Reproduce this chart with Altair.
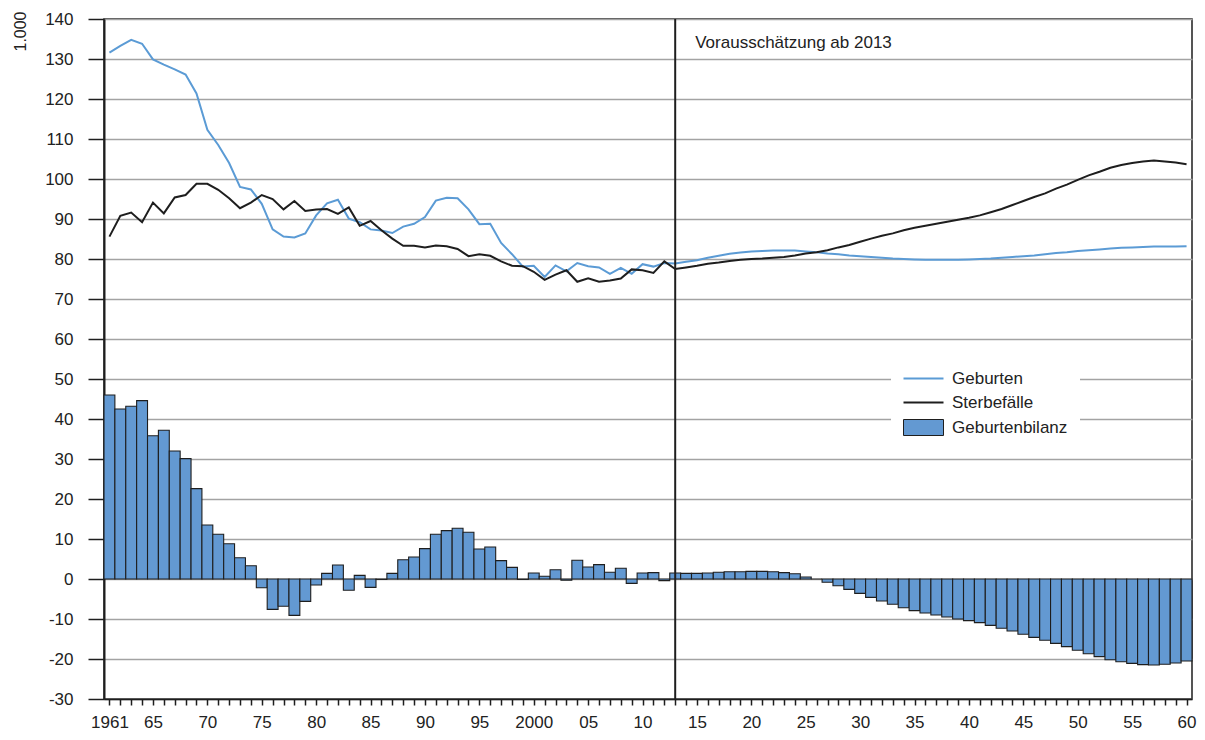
import altair as alt
import pandas as pd

# ---------------- data (in 1.000) ----------------
years = list(range(1961, 2061))

geburten = [
    131.6, 133.3, 134.8, 133.8, 129.9, 128.6, 127.4, 126.1, 121.4, 112.3,   # 1961-1970
    108.5, 104.0, 98.0, 97.4, 93.8, 87.4, 85.6, 85.4, 86.4, 90.9,           # 1971-1980
    93.9, 94.8, 90.1, 89.2, 87.4, 87.1, 86.5, 88.1, 88.8, 90.5,             # 1981-1990
    94.6, 95.3, 95.2, 92.4, 88.7, 88.8, 84.0, 81.2, 78.1, 78.3,             # 1991-2000
    75.5, 78.4, 76.9, 79.0, 78.2, 77.9, 76.3, 77.8, 76.3, 78.7,             # 2001-2010
    78.1, 79.0, 78.9, 79.3, 79.7, 80.3, 80.8, 81.3, 81.6, 81.9,             # 2011-2020
    82.0, 82.1, 82.1, 82.1, 81.9, 81.7, 81.4, 81.2, 80.9, 80.7,             # 2021-2030
    80.5, 80.3, 80.1, 80.0, 79.9, 79.8, 79.8, 79.8, 79.8, 79.9,             # 2031-2040
    80.0, 80.1, 80.3, 80.5, 80.7, 80.9, 81.2, 81.5, 81.7, 82.0,             # 2041-2050
    82.2, 82.4, 82.6, 82.8, 82.9, 83.0, 83.1, 83.1, 83.1, 83.2,             # 2051-2060
]

sterbefaelle = [
    85.6, 90.8, 91.6, 89.2, 94.1, 91.4, 95.4, 96.0, 98.8, 98.8,             # 1961-1970
    97.3, 95.2, 92.7, 94.1, 96.0, 95.0, 92.4, 94.5, 92.0, 92.4,             # 1971-1980
    92.5, 91.3, 92.9, 88.3, 89.5, 87.2, 85.1, 83.3, 83.3, 82.9,             # 1981-1990
    83.4, 83.2, 82.5, 80.7, 81.2, 80.8, 79.4, 78.3, 78.2, 76.8,             # 1991-2000
    74.8, 76.1, 77.2, 74.3, 75.2, 74.3, 74.6, 75.1, 77.4, 77.2,             # 2001-2010
    76.5, 79.4, 77.5, 77.9, 78.3, 78.8, 79.1, 79.5, 79.8, 80.0,             # 2011-2020
    80.1, 80.3, 80.5, 80.9, 81.4, 81.7, 82.2, 82.9, 83.5, 84.3,             # 2021-2030
    85.1, 85.8, 86.4, 87.2, 87.8, 88.3, 88.8, 89.3, 89.8, 90.3,             # 2031-2040
    90.9, 91.7, 92.5, 93.5, 94.5, 95.5, 96.4, 97.6, 98.6, 99.8,             # 2041-2050
    100.9, 101.8, 102.8, 103.5, 104.0, 104.4, 104.6, 104.4, 104.1, 103.7,   # 2051-2060
]

geburtenbilanz = [
    46.0, 42.5, 43.2, 44.6, 35.8, 37.2, 32.0, 30.1, 22.6, 13.5,             # 1961-1970
    11.2, 8.8, 5.3, 3.3, -2.2, -7.6, -6.8, -9.1, -5.6, -1.5,                # 1971-1980
    1.4, 3.5, -2.8, 0.9, -2.1, -0.1, 1.4, 4.8, 5.5, 7.6,                    # 1981-1990
    11.2, 12.1, 12.7, 11.7, 7.5, 8.0, 4.6, 2.9, -0.1, 1.5,                  # 1991-2000
    0.7, 2.3, -0.3, 4.7, 3.0, 3.6, 1.7, 2.7, -1.1, 1.5,                     # 2001-2010
    1.6, -0.4, 1.5, 1.4, 1.4, 1.5, 1.7, 1.8, 1.8, 1.9,                      # 2011-2020
    1.9, 1.8, 1.6, 1.3, 0.5, 0.0, -0.8, -1.7, -2.6, -3.6,                   # 2021-2030
    -4.6, -5.5, -6.3, -7.2, -7.9, -8.5, -9.0, -9.5, -10.0, -10.4,           # 2031-2040
    -10.9, -11.6, -12.3, -13.0, -13.8, -14.6, -15.3, -16.1, -16.9, -17.8,   # 2041-2050
    -18.7, -19.4, -20.2, -20.7, -21.1, -21.4, -21.5, -21.3, -21.0, -20.5,   # 2051-2060
]

series_names = ["Geburten", "Sterbefälle", "Geburtenbilanz"]
y_ticks = list(range(-30, 141, 10))
prognose_start = [2013]
annotation = ["Vorausschätzung ab 2013"]
annotation_y = [134.0]

df = pd.DataFrame({
    "Jahr": years,
    "Geburten": geburten,
    "Sterbefälle": sterbefaelle,
    "Geburtenbilanz": geburtenbilanz,
})

BLUE_FILL = "#6399d2"
BLUE_LINE = "#5b9bd5"
BLACK = "#1e1e1e"
TEXT = "#222222"
FONT = "Liberation Sans"
FS = 17

x_scale = alt.Scale(domain=[1960.5, 2060.5], nice=False, zero=False)
y_scale = alt.Scale(domain=[-30, 140], nice=False, zero=False)
# legend strokes: blue line, black line, black outline of the bar symbol
color_scale = alt.Scale(domain=series_names, range=[BLUE_LINE, BLACK, BLACK])

label_expr = (
    "datum.value == 1961 ? '1961' : (datum.value % 5 != 0 ? '' : "
    "(datum.value == 2000 ? '2000' : (datum.value % 100 < 10 ? '0' + (datum.value % 100) "
    ": '' + (datum.value % 100))))"
)

x_axis = alt.Axis(
    values=years, labelExpr=label_expr, labelOverlap=False, labelFlush=False,
    grid=False, ticks=True, tickSize=6, tickColor=BLACK, tickWidth=1.5,
    domainColor=BLACK, domainWidth=1.5, labelPadding=9,
    labelFontSize=FS, labelColor=TEXT, title=None,
)

y_axis = alt.Axis(
    values=y_ticks, labelExpr="'' + datum.value", labelOverlap=False,
    grid=True, gridColor="#a3a3a3", gridWidth=1.5,
    ticks=True, tickSize=16, tickColor=BLACK, tickWidth=1.5,
    domainColor=BLACK, domainWidth=2, labelPadding=15,
    labelFontSize=FS, labelColor=TEXT,
    title="1.000", titleAngle=270, titleX=-84, titleY=12,
    titleAlign="center", titleBaseline="middle",
    titleFontSize=FS - 1, titleFontWeight="normal", titleColor=TEXT,
)

legend = alt.Legend(
    title=None, orient="none", legendX=787, legendY=339,
    symbolType={"expr": "datum.value === 'Geburtenbilanz' ? 'M-1,-0.4H1V0.4H-1Z' : 'stroke'"},
    symbolSize=1600, symbolOffset=12,
    symbolStrokeWidth={"expr": "datum.value === 'Geburtenbilanz' ? 1 : 2"},
    symbolFillColor=BLUE_FILL,
    symbolOpacity=1,
    labelFontSize=FS, labelOffset=20, labelColor=TEXT,
    fillColor="white", padding=12, rowPadding=6,
)

bars = alt.Chart(df).transform_calculate(
    x0="datum.Jahr - 0.5", x1="datum.Jahr + 0.5"
).mark_rect(fill=BLUE_FILL, stroke=BLACK, strokeWidth=1.1, opacity=1).encode(
    x=alt.X("x0:Q", scale=x_scale, axis=x_axis),
    x2="x1:Q",
    y=alt.Y("Geburtenbilanz:Q", scale=y_scale, axis=y_axis),
    y2=alt.datum(0),
)

lines = alt.Chart(df).transform_fold(
    ["Geburten", "Sterbefälle"], as_=["Reihe", "Wert"]
).mark_line(strokeWidth=2).encode(
    x=alt.X("Jahr:Q", scale=x_scale, axis=x_axis),
    y=alt.Y("Wert:Q", scale=y_scale, axis=y_axis),
    color=alt.Color("Reihe:N", scale=color_scale, legend=legend),
)

rule = alt.Chart(pd.DataFrame({"Jahr": prognose_start})).mark_rule(
    color=BLACK, strokeWidth=2
).encode(x=alt.X("Jahr:Q", scale=x_scale, axis=x_axis))

text = alt.Chart(pd.DataFrame({
    "Jahr": prognose_start, "y": annotation_y, "label": annotation
})).mark_text(align="left", baseline="middle", dx=20, fontSize=FS, color=TEXT).encode(
    x=alt.X("Jahr:Q", scale=x_scale, axis=x_axis),
    y=alt.Y("y:Q", scale=y_scale, axis=y_axis),
    text="label:N",
)

chart = alt.layer(bars, lines, rule, text).properties(
    width=1088, height=680,
    autosize=alt.AutoSizeParams(type="none"),
    padding={"left": 96, "top": 11, "right": 5, "bottom": 33},
).configure(font=FONT).configure_view(stroke=BLACK, strokeWidth=1.5)

chart.save("out.html", embed_options={"renderer": "svg", "actions": False})
